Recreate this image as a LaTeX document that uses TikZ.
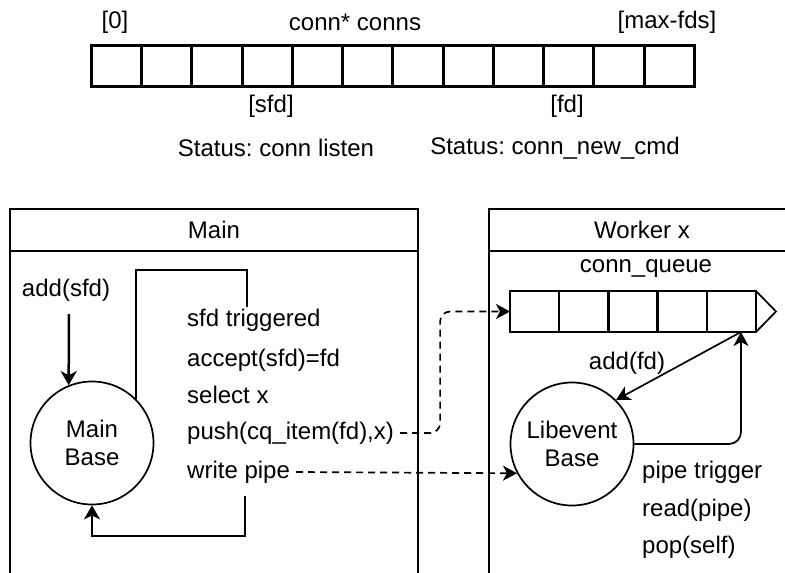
\documentclass[tikz,border=0pt]{standalone}
\usepackage{fontspec}
\setmainfont{Liberation Sans}
\usetikzlibrary{arrows.meta, calc, positioning}
\newcommand{\diagfont}{\fontsize{24}{28}\selectfont}
\frenchspacing
\tikzset{
  txt/.style     = {inner sep=0pt, inner xsep=6pt, font=\diagfont},
  cell/.style    = {draw, line width=3pt, minimum width=50.25pt, minimum height=41pt,
                    inner sep=0pt, outer sep=0pt},
  qcell/.style   = {draw, line width=2.5pt, minimum width=49.2pt, minimum height=41pt,
                    inner sep=0pt, outer sep=0pt},
  evbase/.style  = {circle, draw, line width=1.7pt, minimum size=123pt, inner sep=0pt,
                    align=center, font=\diagfont},
  header/.style  = {draw, line width=2.5pt, minimum height=42pt, inner sep=0pt,
                    outer sep=0pt, font=\diagfont},
  arrow/.style   = {line width=2.5pt, -{Stealth[length=14pt,width=16pt,inset=4pt]}},
  thinarrow/.style = {line width=1.7pt, -{Stealth[length=14pt,width=15pt,inset=4pt]}},
  link/.style    = {line width=1.7pt, dash pattern=on 7pt off 5pt,
                    -{Stealth[length=14pt,width=15pt,inset=4pt]}}
}

\begin{document}
\begin{tikzpicture}[x=1pt, y=-1pt]
\useasboundingbox (0,0) rectangle (785,573);
\clip (0,0) rectangle (785,573);

% conns array
\foreach \i in {0,...,11} {
    \node[cell] (c\i) at ({116.6+50.25*\i}, 66) {};
}
\node[txt] (first) at (115,22) {[0]};
\node[txt] (title) at (355,22) {conn* conns};
\node[txt] (last) at (667,22) {[max-fds]};
\node[txt] (sfdidx) at (271,106) {[sfd]};
\node[txt] (fdidx) at (567,106) {[fd]};
\node[txt] (listen) at (276,148) {Status: conn listen};
\node[txt] (newcmd) at (555,148) {Status: conn\_new\_cmd};

% Main thread
\node[header, minimum width=408pt] (mainhead) at (214,230) {Main};
\draw[line width=2.5pt] (mainhead.south west) -- ++(0,340);
\draw[line width=2.5pt] (mainhead.south east) -- ++(0,340);

\node[evbase] (mainbase) at (92,443) {Main\\Base};
\node[txt] (addsfd) at (66,290) {add(sfd)};
\coordinate (sfdin) at (69,314);
\draw[arrow] (sfdin) -- (mainbase.112);

\node[txt, anchor=west] (trig) at (181,320) {sfd triggered};
\node[txt, anchor=west] (accept) at (181,360) {accept(sfd)=fd};
\node[txt, anchor=west] (selx) at (181,395) {select x};
\node[txt, anchor=west] (push) at (181,433) {push(cq\_item(fd),x)};
\node[txt, anchor=west] (wpipe) at (181,472) {write pipe};

\coordinate (loopend) at (247,307);
\draw[line width=2.5pt] (mainbase.45) |- ($(loopend)+(0,-37)$) -- (loopend);
\coordinate (backstart) at (245,496);
\draw[arrow] (backstart) -- ++(0,40) -| (mainbase.south);

% Worker thread
\node[header, minimum width=306pt] (workhead) at (642,230) {Worker x};
\draw[line width=2.5pt] (workhead.south west) -- ++(0,340);

\node[txt] (cqname) at (646,269) {conn\_queue};
\foreach \i in {1,...,5} {
    \node[qcell] (q\i) at ({485.4+49.2*\i}, 311.5) {};
}
\draw[line width=1.7pt] (q5.north east) -- ++(20,20.5) -- (q5.south east);

\node[evbase] (libbase) at (572,444) {Libevent\\Base};
\coordinate (qtap) at ($(q5.south east)+(-15,0)$);
\draw[thinarrow] (qtap) -- (libbase.45);
\node[txt] (addfd) at (627,363) {add(fd)};
\draw[thinarrow, rounded corners=12pt] (libbase.east) -| (qtap);

\node[txt, anchor=west] (ptrig) at (636,472) {pipe trigger};
\node[txt, anchor=west] (rpipe) at (636,510) {read(pipe)};
\node[txt, anchor=west] (pops) at (636,547) {pop(self)};

% main -> worker
\draw[link, rounded corners=10pt] (push.east) -- ++(40,0) |- (q1.west);
\draw[link] (wpipe.east) -- (libbase.208);
\end{tikzpicture}
\end{document}
